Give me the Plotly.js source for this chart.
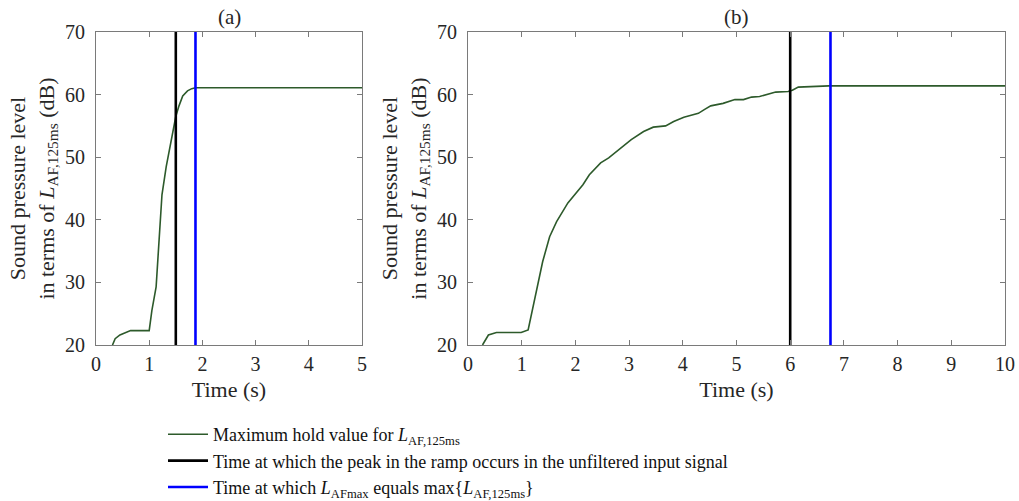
<!DOCTYPE html>
<html><head><meta charset="utf-8">
<script src="https://cdn.plot.ly/plotly-3.0.1.min.js"></script>
<style>html,body{margin:0;padding:0;background:#fff;}#plot{width:1019px;height:501px;}</style>
</head><body><div id="plot"></div>
<script>
// Panel (a)
const timeA = [0.31, 0.36, 0.45, 0.55, 0.65, 1.0, 1.05, 1.13, 1.19, 1.24, 1.32, 1.39, 1.45, 1.5, 1.56, 1.63, 1.72, 1.8, 1.87, 5.0];
const levelA = [20, 21, 21.6, 22.0, 22.3, 22.3, 25.5, 29.3, 37.5, 44, 48.5, 51.7, 54.5, 56.5, 58.2, 59.8, 60.6, 60.95, 61.1, 61.1];
// Panel (b)
const timeB = [0.27, 0.38, 0.53, 0.99, 1.12, 1.24, 1.39, 1.52, 1.65, 1.86, 2.01, 2.14, 2.26, 2.47, 2.62, 2.85, 3.04, 3.27, 3.45, 3.68, 3.83, 4.02, 4.29, 4.40, 4.52, 4.75, 4.97, 5.13, 5.28, 5.43, 5.73, 5.96, 6.04, 6.15, 6.34, 6.72, 10.0];
const levelB = [20, 21.6, 22.0, 22.0, 22.4, 27.2, 33.3, 37.3, 39.7, 42.7, 44.3, 45.6, 47.2, 49.1, 49.9, 51.5, 52.8, 54.1, 54.8, 55.0, 55.7, 56.4, 57.0, 57.6, 58.2, 58.6, 59.2, 59.2, 59.6, 59.7, 60.4, 60.5, 60.7, 61.2, 61.3, 61.4, 61.4];
const peakTime = [1.5, 6.0];     // black lines (a), (b)
const maxTime = [1.87, 6.75];    // blue lines (a), (b)
const yRange = [20, 70];
const xTicksA = [0, 1, 2, 3, 4, 5];
const xTicksB = [0, 1, 2, 3, 4, 5, 6, 7, 8, 9, 10];
const yTicks = [20, 30, 40, 50, 60, 70];
const panelTitles = ['(a)', '(b)'];
const legendNames = [
  'Maximum hold value for <i>L</i><sub>AF,125ms</sub>',
  'Time at which the peak in the ramp occurs in the unfiltered input signal',
  'Time at which <i>L</i><sub>AFmax</sub> equals max{<i>L</i><sub>AF,125ms</sub>}'
];

const green = '#2d5a2b', black = '#000000', blue = '#0000ff';
const FONT = '"Liberation Serif", "Times New Roman", serif';
const TXT = '#262626';

const traces = [
  {x: timeA, y: levelA, xaxis: 'x', yaxis: 'y', mode: 'lines', line: {color: green, width: 1.6}, name: legendNames[0], showlegend: true},
  {x: [peakTime[0], peakTime[0]], y: yRange, xaxis: 'x', yaxis: 'y', mode: 'lines', line: {color: black, width: 2.6}, name: legendNames[1], showlegend: true},
  {x: [maxTime[0], maxTime[0]], y: yRange, xaxis: 'x', yaxis: 'y', mode: 'lines', line: {color: blue, width: 2.6}, name: legendNames[2], showlegend: true},
  {x: timeB, y: levelB, xaxis: 'x2', yaxis: 'y2', mode: 'lines', line: {color: green, width: 1.6}, name: legendNames[0], showlegend: false},
  {x: [peakTime[1], peakTime[1]], y: yRange, xaxis: 'x2', yaxis: 'y2', mode: 'lines', line: {color: black, width: 2.6}, name: legendNames[1], showlegend: false},
  {x: [maxTime[1], maxTime[1]], y: yRange, xaxis: 'x2', yaxis: 'y2', mode: 'lines', line: {color: blue, width: 2.6}, name: legendNames[2], showlegend: false}
];

const W = 1019, H = 501;
function axBase() {
  return {
    showgrid: false, zeroline: false, showline: true, linecolor: '#7a7a7a', linewidth: 1,
    mirror: 'ticks', ticks: 'inside', ticklen: 5, tickcolor: '#7a7a7a', automargin: false,
    tickfont: {family: FONT, size: 20, color: TXT}, fixedrange: true
  };
}
const yTitle = 'Sound pressure level<br>in terms of <i>L</i><sub>AF,125ms</sub> (dB)';
const titleFont = {family: FONT, size: 22, color: TXT};
const layout = {
  width: W, height: H,
  margin: {l: 0, r: 0, t: 0, b: 0, pad: 0, autoexpand: false},
  paper_bgcolor: '#fff', plot_bgcolor: '#fff',
  font: {family: FONT, color: TXT},
  showlegend: true,
  hovermode: false,
  xaxis: Object.assign(axBase(), {domain: [96/W, 362/W], range: [0, 5], tickvals: xTicksA, anchor: 'y', ticklabelstandoff: 1,
    title: {text: 'Time (s)', font: titleFont, standoff: 7}}),
  yaxis: Object.assign(axBase(), {domain: [1 - 345/H, 1 - 32/H], range: yRange, tickvals: yTicks, anchor: 'x', ticklabelstandoff: 6,
    title: {text: yTitle, font: titleFont, standoff: 4}}),
  xaxis2: Object.assign(axBase(), {domain: [468/W, 1005/W], range: [0, 10], tickvals: xTicksB, anchor: 'y2', ticklabelstandoff: 1,
    title: {text: 'Time (s)', font: titleFont, standoff: 7}}),
  yaxis2: Object.assign(axBase(), {domain: [1 - 345/H, 1 - 32/H], range: yRange, tickvals: yTicks, anchor: 'x2', ticklabelstandoff: 6,
    title: {text: yTitle, font: titleFont, standoff: 4}}),
  legend: {x: 163/W, xanchor: 'left', y: 1 - 416/H, yanchor: 'top', orientation: 'v', itemwidth: 40,
    font: {family: FONT, size: 18, color: '#111'}, bgcolor: 'rgba(0,0,0,0)', borderwidth: 0,
    tracegroupgap: 0, itemclick: false, itemdoubleclick: false},
  annotations: [
    {text: panelTitles[0], xref: 'x domain', yref: 'paper', x: 0.5, y: 1 - 17/H, xanchor: 'center', yanchor: 'middle', showarrow: false, font: {family: FONT, size: 21, color: TXT}},
    {text: panelTitles[1], xref: 'x2 domain', yref: 'paper', x: 0.5, y: 1 - 17/H, xanchor: 'center', yanchor: 'middle', showarrow: false, font: {family: FONT, size: 21, color: TXT}}
  ]
};
Plotly.newPlot('plot', traces, layout, {displayModeBar: false, staticPlot: true});
</script>
</body></html>
